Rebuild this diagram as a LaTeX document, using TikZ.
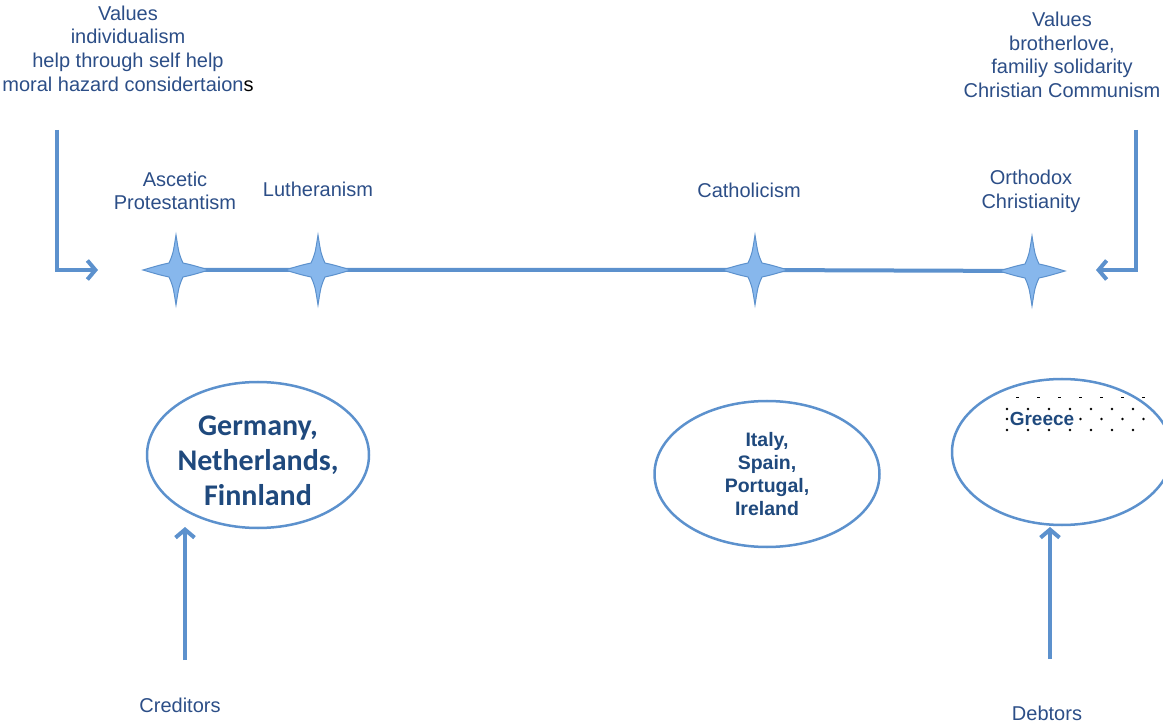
\documentclass[tikz,border=0pt]{standalone}
\usepackage{fontspec}
\setmainfont{Liberation Sans}
\newfontfamily\calibri{Carlito}
\usetikzlibrary{arrows.meta,shapes.geometric}
\definecolor{txtblue}{RGB}{44,78,135}
\definecolor{boldblue}{RGB}{31,73,125}
\definecolor{lineblue}{RGB}{92,145,205}
\definecolor{starfill}{RGB}{135,183,236}
\begin{document}
\begin{tikzpicture}[x=1pt,y=-1pt,
  txt/.style={text=txtblue, font=\fontsize{20}{23.7}\selectfont, align=center, inner sep=0pt},
  boldtxt/.style={text=boldblue, font=\fontsize{19.5}{23.3}\selectfont\bfseries, align=center, inner sep=0pt},
  bigtxt/.style={text=boldblue, font=\calibri\fontsize{30}{35}\selectfont\bfseries, align=center, inner sep=0pt},
  conn/.style={draw=lineblue, line width=4pt, -{Straight Barb[length=8pt,width=19pt]}},
  axis/.style={draw=lineblue, line width=4pt},
  oval/.style={draw=lineblue, line width=2.5pt, ellipse, inner sep=0pt},
  dotmark/.style={fill=black},
  fourstar/.pic={\path[draw=lineblue, fill=starfill, line width=1pt]
     (0,-35) .. controls (3,-16) .. (7,-7) .. controls (16,-5) .. (33,0)
     .. controls (16,5) .. (7,7) .. controls (3,16) .. (0,35)
     .. controls (-3,16) .. (-7,7) .. controls (-16,5) .. (-33,0)
     .. controls (-16,-5) .. (-7,-7) .. controls (-3,-16) .. cycle;}
]
\useasboundingbox (0,0) rectangle (1163,727);

% values texts
\node[txt] (valL) at (128,48.5) {Values\\individualism\\help through self help\\moral hazard considertaion{\color{black}s}};
\node[txt] (valR) at (1062,55) {Values\\brotherlove,\\familiy solidarity\\Christian Communism};

% bracket arrows
\coordinate (bl0) at (57,130);
\coordinate (bl1) at (57,270);
\coordinate (bl2) at (98,270);
\coordinate (br0) at (1136,130);
\coordinate (br1) at (1136,270);
\coordinate (br2) at (1096,270);
\draw[conn] (bl0) -- (bl1) -- (bl2);
\draw[conn] (br0) -- (br1) -- (br2);

% axis with stars
\coordinate (s1) at (176,270);
\coordinate (s2) at (318,270);
\coordinate (s3) at (755,270);
\coordinate (s4) at (1032,271);
\draw[axis] (s1) -- (s2) -- (s3) -- (s4);
\pic at (s1) {fourstar};
\pic at (s2) {fourstar};
\pic at (s3) {fourstar};
\pic at (s4) {fourstar};

% star labels
\node[txt] (l1) at (175,191) {Ascetic\\Protestantism};
\node[txt] (l2) at (318,189) {Lutheranism};
\node[txt] (l3) at (749,190) {Catholicism};
\node[txt] (l4) at (1031,191) {Orthodox\\Christianity};

% ellipses
\node[oval, minimum width=222pt, minimum height=146pt] (e1) at (258,455) {};
\node[bigtxt] (t1) at (258,461) {Germany,\\Netherlands,\\Finnland};
\node[oval, minimum width=225pt, minimum height=146pt] (e2) at (767,474) {};
\node[boldtxt] (t2) at (767,474) {Italy,\\Spain,\\Portugal,\\Ireland};
\node[oval, minimum width=220pt, minimum height=146pt] (e3) at (1062,452) {};

% dotted pattern in Greece ellipse
\foreach \k in {0,...,6} {
  \fill[dotmark] ({1017.5+21*\k-1.5},397.5) rectangle ++(3,1);
  \fill[dotmark] ({1007+21*\k},409) circle (1.3);
  \fill[dotmark] ({1007+21*\k},430) circle (1.3);
}
\foreach \k in {3,...,6} {
  \fill[dotmark] ({1017.5+21*\k},419) circle (1.3);
}
\fill[dotmark] (1007,419) circle (1.3);
\node[boldtxt, font=\fontsize{19}{23}\selectfont\bfseries] (t3) at (1042,419) {Greece};

% creditors / debtors
\coordinate (c0) at (185,660);
\coordinate (c1) at (185,527);
\coordinate (d0) at (1050,659);
\coordinate (d1) at (1050,527);
\draw[conn] (c0) -- (c1);
\draw[conn] (d0) -- (d1);
\node[txt] (cred) at (180,705) {Creditors};
\node[txt] (debt) at (1047,713) {Debtors};
\end{tikzpicture}
\end{document}
